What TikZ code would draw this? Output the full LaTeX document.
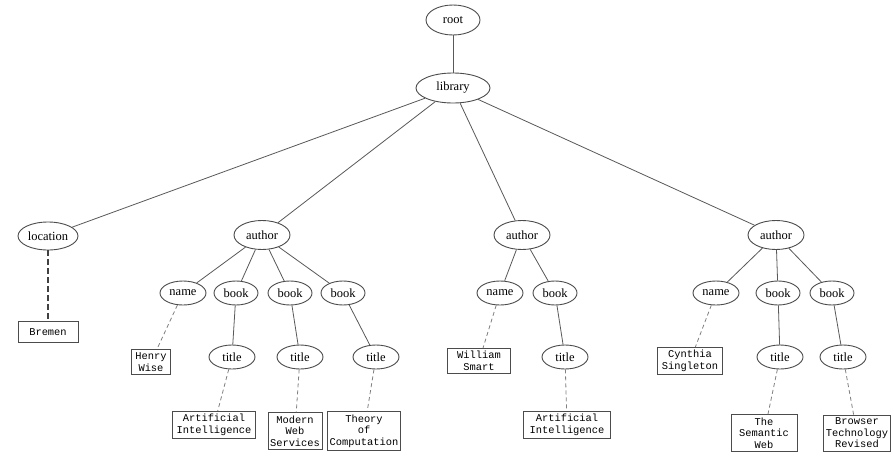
\documentclass[tikz,border=0pt]{standalone}
\usepackage{fontspec}
\setmainfont{Liberation Serif}
\newfontfamily\boxfont{Liberation Mono}
\usetikzlibrary{shapes.geometric}
\tikzset{
  el/.style={ellipse,draw=black!70,line width=0.9pt,inner sep=0pt,font=\fontsize{12.5}{14}\selectfont,minimum width=46pt,minimum height=24pt},
  big/.style={el,minimum width=56pt,minimum height=29pt},
  txt/.style={rectangle,draw=black!70,line width=0.9pt,align=center,inner xsep=4pt,inner ysep=3pt,font=\boxfont\fontsize{10.4}{11.5}\selectfont},
  edge/.style={draw=black!65,line width=0.8pt},
  dedge/.style={draw=black!50,line width=0.8pt,dash pattern=on 4pt off 3pt},
  bedge/.style={draw=black!75,line width=1.1pt,dash pattern=on 6pt off 3pt}
}
\begin{document}
\begin{tikzpicture}[x=1pt,y=-1pt]
\useasboundingbox[fill=white] (0,0) rectangle (894,458);
% top
\node[big,minimum width=54pt,minimum height=30pt] (root) at (453,20) {root};
\node[big,minimum width=74pt,minimum height=30pt] (lib) at (453,88) {library};
% location
\node[big,minimum width=60pt,minimum height=28pt] (loc) at (48,236) {location};
\node[txt,minimum width=60pt,minimum height=21pt] (bremen) at (48,332) {Bremen};
% author 1
\node[big] (a1) at (262,235) {author};
\node[el] (n1) at (183,293) {name};
\node[el,minimum width=44pt] (b11) at (236,293) {book};
\node[el,minimum width=44pt] (b12) at (290,293) {book};
\node[el,minimum width=44pt] (b13) at (343,293) {book};
\node[txt] (hw) at (151,362) {Henry\\Wise};
\node[el] (t11) at (232,357) {title};
\node[el] (t12) at (300,357) {title};
\node[el] (t13) at (376,357) {title};
\node[txt] (ai1) at (214,425) {Artificial\\Intelligence};
\node[txt,inner xsep=2pt] (mws) at (295,431) {Modern\\Web\\Services};
\node[txt,inner xsep=2pt] (toc) at (364,431) {Theory\\of\\Computation};
% author 2
\node[big] (a2) at (522,235) {author};
\node[el] (n2) at (500,293) {name};
\node[el,minimum width=44pt] (b21) at (555,293) {book};
\node[txt,inner xsep=10pt] (ws) at (479,361) {William\\Smart};
\node[el] (t21) at (565,357) {title};
\node[txt,inner xsep=6pt] (ai2) at (567,425) {Artificial\\Intelligence};
% author 3
\node[big] (a3) at (776,235) {author};
\node[el] (n3) at (716,293) {name};
\node[el,minimum width=44pt] (b31) at (778,293) {book};
\node[el,minimum width=44pt] (b32) at (832,293) {book};
\node[txt] (cs) at (690,361) {Cynthia\\Singleton};
\node[el] (t31) at (780,357) {title};
\node[el] (t32) at (843,357) {title};
\node[txt,inner xsep=8pt] (sw) at (764,433) {The\\Semantic\\Web};
\node[txt,inner xsep=2pt] (btr) at (857,433) {Browser\\Technology\\Revised};
% edges
\draw[edge] (root) -- (lib);
\draw[edge] (lib) -- (loc);
\draw[edge] (lib) -- (a1);
\draw[edge] (lib) -- (a2);
\draw[edge] (lib) -- (a3);
\draw[bedge] (loc) -- (bremen);
\draw[edge] (a1) -- (n1);
\draw[edge] (a1) -- (b11);
\draw[edge] (a1) -- (b12);
\draw[edge] (a1) -- (b13);
\draw[dedge] (n1) -- (hw);
\draw[edge] (b11) -- (t11);
\draw[edge] (b12) -- (t12);
\draw[edge] (b13) -- (t13);
\draw[dedge] (t11) -- (ai1);
\draw[dedge] (t12) -- (mws);
\draw[dedge] (t13) -- (toc);
\draw[edge] (a2) -- (n2);
\draw[edge] (a2) -- (b21);
\draw[dedge] (n2) -- (ws);
\draw[edge] (b21) -- (t21);
\draw[dedge] (t21) -- (ai2);
\draw[edge] (a3) -- (n3);
\draw[edge] (a3) -- (b31);
\draw[edge] (a3) -- (b32);
\draw[dedge] (n3) -- (cs);
\draw[edge] (b31) -- (t31);
\draw[edge] (b32) -- (t32);
\draw[dedge] (t31) -- (sw);
\draw[dedge] (t32) -- (btr);
\end{tikzpicture}
\end{document}
